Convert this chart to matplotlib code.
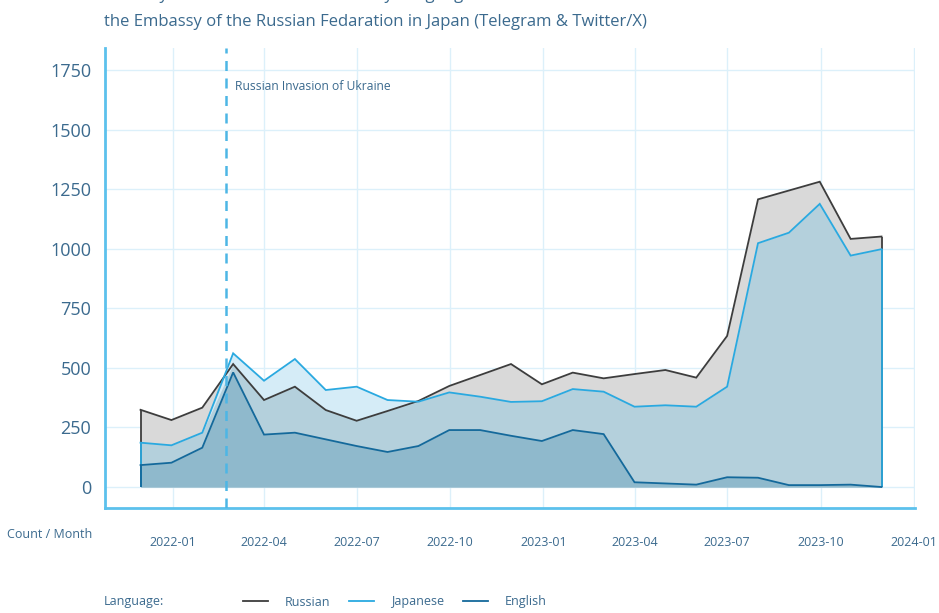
import matplotlib
matplotlib.use("Agg")
import matplotlib.pyplot as plt
from matplotlib.lines import Line2D
import numpy as np
import pandas as pd

# ---- data ----
start_date = "2021-11-30"
end_date = "2023-11-30"
n_points = 25
russian = [324, 281, 333, 516, 365, 421, 323, 278, 319, 361, 424, 470, 516, 431,
           480, 456, 474, 491, 459, 634, 1207, 1244, 1281, 1041, 1051]
japanese = [186, 175, 228, 561, 446, 537, 407, 421, 365, 358, 397, 379, 357, 360,
            411, 400, 337, 343, 337, 421, 1023, 1067, 1188, 971, 998]
english = [92, 102, 165, 481, 220, 228, 200, 172, 147, 172, 239, 239, 215, 193,
           239, 222, 20, 15, 10, 41, 39, 8, 8, 10, 0]
yticks = [0, 250, 500, 750, 1000, 1250, 1500, 1750]
xtick_labels = ["2022-01", "2022-04", "2022-07", "2022-10", "2023-01",
                "2023-04", "2023-07", "2023-10", "2024-01"]
invasion_date = "2022-02-22"
invasion_label = "Russian Invasion of Ukraine"
series_names = ["Russian", "Japanese", "English"]
title_line1 = "Monthly Number of Content Items by Language on the Accounts of"
title_line2 = "the Embassy of the Russian Fedaration in Japan (Telegram & Twitter/X)"

dates = pd.date_range(start_date, end_date, periods=n_points)
R = np.array(russian, float)
J = np.array(japanese, float)
E = np.array(english, float)

# ---- style ----
plt.rcParams['font.family'] = ['Open Sans', 'DejaVu Sans']
txt = "#3b6a8e"
c_r_line, c_j_line, c_e_line = "#3d3d3d", "#2aa9e0", "#14699b"
c_r_fill, c_j_fill, c_rj_fill, c_e_fill = "#d9d9d9", "#d5ecf7", "#b4d0dc", "#8fb9cc"
grid_c = "#dcf0fa"
spine_c = "#5cc1ec"

W, H = 939, 613
fig = plt.figure(figsize=(W / 100, H / 100), dpi=100)
L, Rt, B, T = 105, 915, 508, 48
ax = fig.add_axes([L / W, (H - B) / H, (Rt - L) / W, (B - T) / H])

ax.fill_between(dates, 0, R, color=c_r_fill, lw=0, zorder=1)
ax.fill_between(dates, 0, J, color=c_j_fill, lw=0, zorder=1)
ax.fill_between(dates, 0, np.minimum(R, J), color=c_rj_fill, lw=0, zorder=1)
ax.fill_between(dates, 0, E, color=c_e_fill, lw=0, zorder=1)

for vals, c in [(R, c_r_line), (J, c_j_line), (E, c_e_line)]:
    ax.plot(dates, vals, color=c, lw=1.3, zorder=3, solid_joinstyle='miter')
    ax.vlines([dates[0], dates[-1]], 0, [vals[0], vals[-1]], color=c, lw=1.3, zorder=3)

inv = pd.Timestamp(invasion_date)
ax.axvline(inv, color="#4db6e5", lw=1.8, ls=(0, (4, 3)), zorder=4)
ax.text(inv + pd.Timedelta(days=9), 1680, invasion_label, color=txt, fontsize=8.7,
        va='center', ha='left', zorder=5)

ax.set_xlim(pd.Timestamp("2021-10-26"), pd.Timestamp("2024-01-02"))
ax.set_ylim(-88, 1842)
ax.set_yticks(yticks)
ax.set_yticklabels([str(v) for v in yticks], fontsize=13, color=txt)
ax.set_xticks([pd.Timestamp(s + "-01") for s in xtick_labels])
ax.set_xticklabels(xtick_labels, fontsize=9, color=txt)
ax.tick_params(axis='both', length=0)
ax.tick_params(axis='x', pad=20)
ax.tick_params(axis='y', pad=10)
ax.grid(True, color=grid_c, lw=1, zorder=0)
ax.set_axisbelow(True)
for s in ['top', 'right']:
    ax.spines[s].set_visible(False)
for s in ['left', 'bottom']:
    ax.spines[s].set_color(spine_c)
    ax.spines[s].set_linewidth(2)

fig.text(7 / W, 1 - 534 / H, "Count / Month", fontsize=9, color=txt, va='center', ha='left')

# titles
fig.text(104 / W, 1 - 26 / H, title_line2, fontsize=12, color=txt, va='baseline', ha='left')
fig.text(104 / W, 1 + 1 / H, title_line1, fontsize=12, color=txt, va='baseline', ha='left')

# legend
fig.text(104 / W, 1 - 602 / H, "Language:", fontsize=9, color=txt, va='center', ha='left')
handles = [Line2D([], [], color=c, lw=1.3) for c in (c_r_line, c_j_line, c_e_line)]
leg = fig.legend(handles, series_names, loc='center left',
                 bbox_to_anchor=(243 / W, 1 - 602 / H), ncol=3, frameon=False,
                 fontsize=9, handlelength=2.0, handletextpad=1.35, columnspacing=1.5,
                 borderaxespad=0, borderpad=0)
for t in leg.get_texts():
    t.set_color(txt)

fig.savefig("out.png", dpi=100)
